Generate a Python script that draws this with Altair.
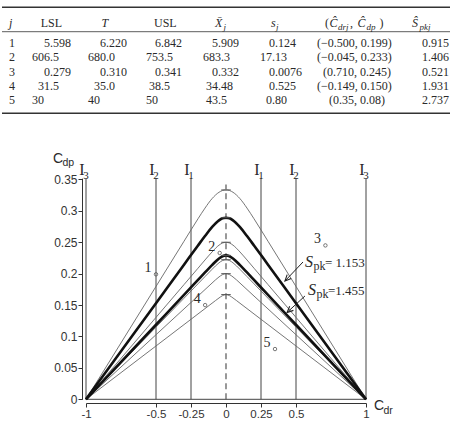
import altair as alt
import pandas as pd

# ---------------- table values ----------------
j_col   = ["1", "2", "3", "4", "5"]
LSL     = ["5.598", "606.5", "0.279", "31.5", "30"]
T_col   = ["6.220", "680.0", "0.310", "35.0", "40"]
USL     = ["6.842", "753.5", "0.341", "38.5", "50"]
Xbar    = ["5.909", "683.3", "0.332", "34.48", "43.5"]
s_col   = ["0.124", "17.13", "0.0076", "0.525", "0.80"]
Cdr_hat = ["\u22120.500", "\u22120.045", "0.710", "\u22120.149", "0.35"]
Cdp_hat = ["0.199", "0.233", "0.245", "0.150", "0.08"]
Spk_hat = ["0.915", "1.406", "0.521", "1.931", "2.737"]

# ---------------- chart values ----------------
cdr_grid = [-1, -0.5, -0.3, -0.2, -0.15, -0.1, -0.05, -0.025, 0,
            0.025, 0.05, 0.1, 0.15, 0.2, 0.3, 0.5, 1]
curve_names = ["1.000", "1.153", "1.333", "1.455", "1.500", "1.667", "2.000"]
curve_vals = [
    [0, 0.1797, 0.2516, 0.2874, 0.3044, 0.3194, 0.3296, 0.3324, 0.3333, 0.3324, 0.3296, 0.3194, 0.3044, 0.2874, 0.2516, 0.1797, 0],
    [0, 0.1530, 0.2143, 0.2449, 0.2599, 0.2741, 0.2849, 0.2881, 0.2891, 0.2881, 0.2849, 0.2741, 0.2599, 0.2449, 0.2143, 0.1530, 0],
    [0, 0.1304, 0.1826, 0.2087, 0.2218, 0.2345, 0.2454, 0.2488, 0.2500, 0.2488, 0.2454, 0.2345, 0.2218, 0.2087, 0.1826, 0.1304, 0],
    [0, 0.1187, 0.1662, 0.1900, 0.2019, 0.2136, 0.2242, 0.2278, 0.2291, 0.2278, 0.2242, 0.2136, 0.2019, 0.1900, 0.1662, 0.1187, 0],
    [0, 0.1149, 0.1609, 0.1839, 0.1954, 0.2068, 0.2173, 0.2209, 0.2222, 0.2209, 0.2173, 0.2068, 0.1954, 0.1839, 0.1609, 0.1149, 0],
    [0, 0.1028, 0.1439, 0.1644, 0.1747, 0.1850, 0.1948, 0.1985, 0.2000, 0.1985, 0.1948, 0.1850, 0.1747, 0.1644, 0.1439, 0.1028, 0],
    [0, 0.0849, 0.1189, 0.1359, 0.1444, 0.1529, 0.1613, 0.1650, 0.1667, 0.1650, 0.1613, 0.1529, 0.1444, 0.1359, 0.1189, 0.0849, 0],
]
thick_curves = ["1.153", "1.455"]
I_x = [-1, -0.5, -0.25, 0.25, 0.5, 1]
I_sub = ["3", "2", "1", "1", "2", "3"]
I_top = 0.352
x_ticks = [-1, -0.5, -0.25, 0, 0.25, 0.5, 1]
y_ticks = [0, 0.05, 0.1, 0.15, 0.2, 0.25, 0.3, 0.35]
spk_labels = ["1.153", "=1.455"]

# ---------------- styling / layout ----------------
SERIF = "Liberation Serif"
SANS = "Liberation Sans"
INK = "#2a2a2a"

# table layout (pixel columns, row baselines, indent in half-digit steps)
col_x = [9, 32, 88, 146, 203, 260, 317, 422]
row_y = [46.7, 61.1, 75.6, 90.0, 104.4]
head_y = 26.7
indent_step = 3
pads = [[0, 0, 0, 0, 0], [4, 0, 4, 2, 0], [4, 0, 4, 2, 0], [3, 0, 3, 1, 0],
        [3, 0, 3, 1, 1], [3, 0, 3, 3, 2], [0, 0, 2, 0, 4], [0, 0, 0, 0, 0]]
header = [  # text, x, kind (n: upright, i: italic, s: subscript italic)
    ("j", 9, "i"), ("LSL", 40.7, "n"), ("T", 101.5, "i"), ("USL", 154, "n"),
    ("X\u0304", 215, "i"), ("j", 223.5, "s"),
    ("s", 271, "i"), ("j", 276, "s"),
    ("(", 325, "n"), ("\u0108", 329.5, "i"), ("drj", 338, "s"), (",", 350, "n"),
    ("\u0108", 357.5, "i"), ("dp", 366.5, "s"), (")", 379.5, "n"),
    ("\u015c", 412, "i"), ("pkj", 419.5, "s"),
]

TX = alt.Scale(domain=[0, 457], range=[0, 457])
TY = alt.Scale(domain=[0, 436], range=[0, 436])


def txy(xf="tx", yf="ty"):
    return dict(x=alt.X(f"{xf}:Q", scale=TX, axis=None),
                y=alt.Y(f"{yf}:Q", scale=TY, axis=None))


columns = [j_col, LSL, T_col, USL, Xbar, s_col,
           [f"({a}, {b})" for a, b in zip(Cdr_hat, Cdp_hat)], Spk_hat]
cells = []
for c, vals in enumerate(columns):
    for r, v in enumerate(vals):
        cells.append(dict(tx=col_x[c] + indent_step * pads[c][r], ty=row_y[r], text=v))
cells_df = pd.DataFrame(cells)

hdr_df = pd.DataFrame([dict(text=t, tx=x, ty=head_y + (2.8 if k == "s" else 0), kind=k)
                       for t, x, k in header])

rules_df = pd.DataFrame(dict(x1=[2, 2, 2], x2=[450, 450, 450],
                             ty=[7.3, 31.7, 113.3], w=[1.5, 0.8, 1.5]))

t_rules = alt.Chart(rules_df).mark_rule(color="#333").encode(
    x=alt.X("x1:Q", scale=TX, axis=None), x2="x2:Q",
    y=alt.Y("ty:Q", scale=TY, axis=None),
    strokeWidth=alt.StrokeWidth("w:Q", scale=None))
t_cells = alt.Chart(cells_df).mark_text(
    font=SERIF, fontSize=12, align="left", baseline="alphabetic", color=INK
).encode(**txy(), text="text:N")
t_head_n = alt.Chart(hdr_df[hdr_df.kind == "n"]).mark_text(
    font=SERIF, fontSize=12, align="left", baseline="alphabetic", color=INK
).encode(**txy(), text="text:N")
t_head_i = alt.Chart(hdr_df[hdr_df.kind == "i"]).mark_text(
    font=SERIF, fontSize=12, fontStyle="italic", align="left", baseline="alphabetic", color=INK
).encode(**txy(), text="text:N")
t_head_s = alt.Chart(hdr_df[hdr_df.kind == "s"]).mark_text(
    font=SERIF, fontSize=9, fontStyle="italic", align="left", baseline="alphabetic", color=INK
).encode(**txy(), text="text:N")
table = alt.layer(t_rules, t_cells, t_head_n, t_head_i, t_head_s)

# ---------------- plot ----------------
XS = alt.Scale(domain=[-1, 1], range=[86, 366], nice=False, zero=False)
YS = alt.Scale(domain=[0, 0.352], range=[399.3, 178.2], nice=False, zero=False)
axis_common = dict(title=None, grid=False, tickSize=4, labelPadding=1, labelFlush=False,
                   labelOverlap=False, labelFont=SANS, labelColor="#333",
                   domainColor="#333", tickColor="#333", labelExpr="toString(datum.value)")
XA = alt.Axis(orient="bottom", offset=-33, values=x_ticks, labelFontSize=11.5, **axis_common)
YA = alt.Axis(orient="left", offset=-82, values=y_ticks, labelFontSize=12, **axis_common)


def pxy(xf, yf):
    return dict(x=alt.X(f"{xf}:Q", scale=XS, axis=XA),
                y=alt.Y(f"{yf}:Q", scale=YS, axis=YA))


crows = []
for name, vals in zip(curve_names, curve_vals):
    for r, p in zip(cdr_grid, vals):
        crows.append(dict(curve=name, r=r, p=p))
cdf = pd.DataFrame(crows)
thin_df = cdf[~cdf.curve.isin(thick_curves)]
thick_df = cdf[cdf.curve.isin(thick_curves)]
peak_df = pd.DataFrame(dict(r=[0] * len(curve_names), p=[v[len(v) // 2] for v in curve_vals]))

Idf = pd.DataFrame(dict(r=I_x, y0=[0] * len(I_x), y1=[I_top] * len(I_x), sub=I_sub))
I_rules = alt.Chart(Idf).mark_rule(color="#444", strokeWidth=1).encode(
    **pxy("r", "y0"), y2="y1:Q")
I_lab = alt.Chart(Idf.assign(t="I")).mark_text(
    font=SERIF, fontSize=16, align="center", baseline="alphabetic", dx=-4, dy=-3, color=INK
).encode(**pxy("r", "y1"), text="t:N")
I_lab_sub = alt.Chart(Idf).mark_text(
    font=SERIF, fontSize=11, align="center", baseline="alphabetic", dx=0, dy=0.5, color=INK
).encode(**pxy("r", "y1"), text="sub:N")

base_df = pd.DataFrame(dict(r=[-1], r2=[1], y=[0]))
base_rule = alt.Chart(base_df).mark_rule(color="#444", strokeWidth=1).encode(
    **pxy("r", "y"), x2="r2:Q")

dash_df = pd.DataFrame(dict(r=[0], y0=[0], y1=[0.342]))
dash_rule = alt.Chart(dash_df).mark_rule(color="#555", strokeWidth=1.2, strokeDash=[6, 4]).encode(
    **pxy("r", "y0"), y2="y1:Q")

thin = alt.Chart(thin_df).mark_line(color="#666", strokeWidth=0.9, interpolate="monotone").encode(
    **pxy("r", "p"), detail="curve:N")
thick = alt.Chart(thick_df).mark_line(color="#111", strokeWidth=2.6, interpolate="monotone").encode(
    **pxy("r", "p"), detail="curve:N")
peaks = alt.Chart(peak_df).mark_point(shape="M-1,0L1,0", size=90, filled=False,
                                      color="#555", strokeWidth=1, opacity=1).encode(**pxy("r", "p"))

pts_df = pd.DataFrame(dict(r=[float(v.replace("\u2212", "-")) for v in Cdr_hat],
                           p=[float(v) for v in Cdp_hat], lab=j_col))
pts = alt.Chart(pts_df).mark_point(shape="circle", size=12, filled=False, color="#555",
                                   strokeWidth=0.8, opacity=1).encode(**pxy("r", "p"))
pts_lab = alt.Chart(pts_df).mark_text(font=SERIF, fontSize=14, align="center", baseline="middle",
                                      dx=-8, dy=-6, color=INK).encode(**pxy("r", "p"), text="lab:N")

# axis titles C_dp, C_dr
cmain_df = pd.DataFrame(dict(r=[-1.2, 1.093], y=[0.3763, -0.0171], t=["C", "C"]))
csub_df = pd.DataFrame(dict(r=[-1.168, 1.125], y=[0.3715, -0.0234], t=["dp", "dr"]))
c_main = alt.Chart(cmain_df).mark_text(font=SANS, fontSize=14, align="center", baseline="alphabetic",
                                       color=INK).encode(**pxy("r", "y"), text="t:N")
c_sub = alt.Chart(csub_df).mark_text(font=SANS, fontSize=10.5, align="left", baseline="alphabetic",
                                     color=INK).encode(**pxy("r", "y"), text="t:N")

# S_pk annotations
ann_df = pd.DataFrame(dict(r=[0.564, 0.586], y=[0.2111, 0.1661], v=spk_labels))
ann_S = alt.Chart(ann_df.assign(t="S")).mark_text(
    font=SERIF, fontSize=16, fontStyle="italic", align="left", baseline="alphabetic", color=INK
).encode(**pxy("r", "y"), text="t:N")
ann_pk = alt.Chart(ann_df.assign(t="pk")).mark_text(
    font=SERIF, fontSize=12, align="left", baseline="alphabetic", dx=8.5, dy=3.5, color=INK
).encode(**pxy("r", "y"), text="t:N")
ann_v1 = alt.Chart(ann_df.iloc[[0]].assign(t="= " + spk_labels[0])).mark_text(
    font=SERIF, fontSize=13, align="left", baseline="alphabetic", dx=20, color=INK
).encode(**pxy("r", "y"), text="t:N")
ann_v2 = alt.Chart(ann_df.iloc[[1]].assign(t=spk_labels[1])).mark_text(
    font=SERIF, fontSize=13, align="left", baseline="alphabetic", dx=20, color=INK
).encode(**pxy("r", "y"), text="t:N")

arr_df = pd.DataFrame(dict(r=[0.55, 0.564], y=[0.2186, 0.1645],
                           r2=[0.421, 0.436], y2=[0.1883, 0.1382], ang=[43.5, 47.5]))
arr_line = alt.Chart(arr_df).mark_rule(color="#222", strokeWidth=1).encode(
    **pxy("r", "y"), x2="r2:Q", y2="y2:Q")
arr_head = alt.Chart(arr_df).mark_point(shape="M-0.45,-1L0,0L0.45,-1", size=150, filled=False,
                                        color="#222", strokeWidth=1.1, opacity=1).encode(
    **pxy("r2", "y2"), angle=alt.Angle("ang:Q", scale=None))

plot = alt.layer(I_rules, base_rule, dash_rule, thin, thick, peaks, pts, pts_lab,
                 I_lab, I_lab_sub, c_main, c_sub, ann_S, ann_pk, ann_v1, ann_v2,
                 arr_line, arr_head)

chart = alt.layer(table, plot).resolve_scale(x="independent", y="independent").properties(
    width=457, height=436, padding=0,
    autosize=alt.AutoSizeParams(type="none"),
    background="white",
).configure_view(stroke=None)

chart.save("out.html", embed_options={"renderer": "svg", "actions": False})
